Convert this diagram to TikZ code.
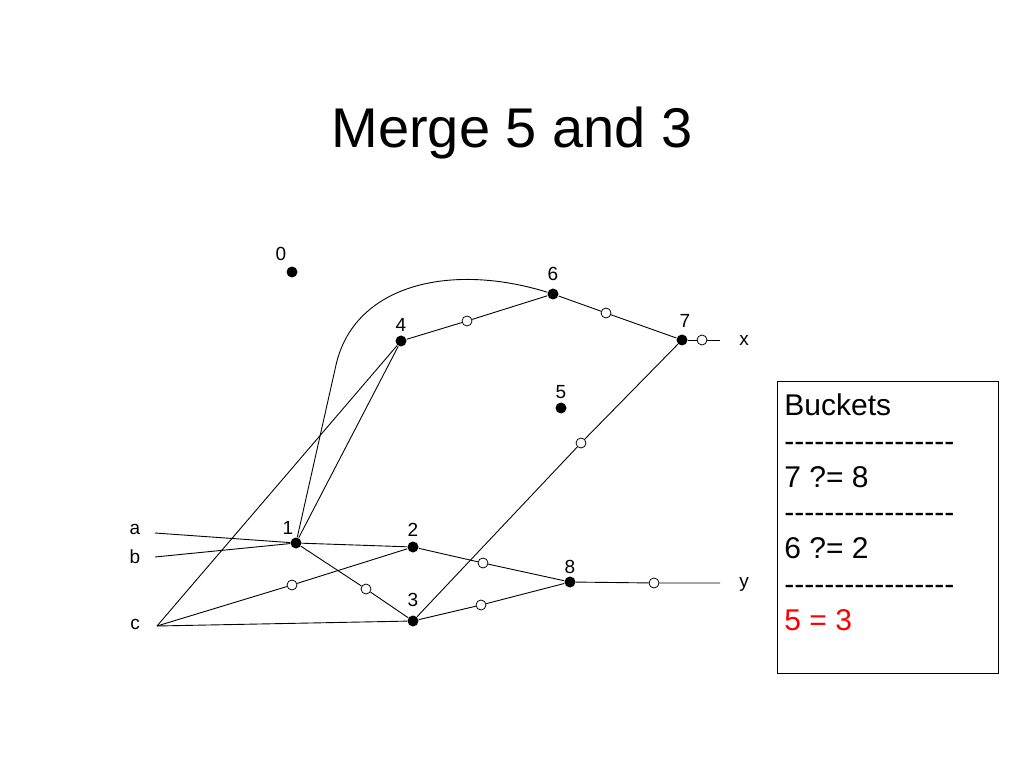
\documentclass[tikz,border=0pt]{standalone}
\usepackage{fontspec}
\setmainfont{Liberation Sans}
\newcommand{\dashrow}{-{}-{}-{}-{}-{}-{}-{}-{}-{}-{}-{}-{}-{}-{}-{}-{}-}
\begin{document}
\begin{tikzpicture}[x=1pt,y=-1pt,line width=0.9pt,
  dot/.style={circle,fill=black,inner sep=0pt,minimum size=11pt},
  hollow/.style={circle,draw=black,fill=white,inner sep=0pt,minimum size=10pt,line width=0.8pt},
  lbl/.style={anchor=base,inner sep=0pt,font=\fontsize{19}{21}\selectfont},
  bk/.style={anchor=base west,inner sep=0pt,font=\fontsize{30}{36}\selectfont}]
\useasboundingbox (0,0) rectangle (1023,767);
% title
\node[anchor=base,inner sep=0pt,font=\fontsize{56}{60}\selectfont] (title) at (512,148) {Merge 5 and 3};
% main nodes
\node[dot] (n0) at (292,272) {};
\node[dot] (n1) at (296,543) {};
\node[dot] (n2) at (413,547) {};
\node[dot] (n3) at (413,621) {};
\node[dot] (n4) at (401,341) {};
\node[dot] (n5) at (561,408) {};
\node[dot] (n6) at (553,294) {};
\node[dot] (n7) at (682,340) {};
\node[dot] (n8) at (570,582) {};
% hollow nodes
\node[hollow] (h46) at (467,321) {};
\node[hollow] (h67) at (606,313) {};
\node[hollow] (h7x) at (702,340) {};
\node[hollow] (h37) at (581,443) {};
\node[hollow] (hc2) at (292,585) {};
\node[hollow] (h13) at (366,589) {};
\node[hollow] (h28) at (483,563) {};
\node[hollow] (h38) at (481,605) {};
\node[hollow] (h8y) at (654,583) {};
% free ends
\coordinate (ea) at (155,533);
\coordinate (eb) at (155,557);
\coordinate (ec) at (157,626);
\coordinate (ex) at (720,340);
\coordinate (ey) at (720,583);
\coordinate (bend) at (336,365);
% labels
\node[lbl] (l0) at (281,260.5) {0};
\node[lbl] (l1) at (288,534) {1};
\node[lbl] (l2) at (413,536) {2};
\node[lbl] (l3) at (413,606) {3};
\node[lbl] (l4) at (401,332) {4};
\node[lbl] (l5) at (561,398) {5};
\node[lbl] (l6) at (553,281) {6};
\node[lbl] (l7) at (685,328) {7};
\node[lbl] (l8) at (570,573) {8};
\node[lbl] (la) at (135,534) {a};
\node[lbl] (lb) at (135,563) {b};
\node[lbl] (lc) at (135,629) {c};
\node[lbl] (lx) at (744,345) {x};
\node[lbl] (ly) at (744,587) {y};
% edges
\draw (ea) -- (n1);
\draw (eb) -- (n1);
\draw (ec) -- (n4);
\draw (ec) -- (hc2) -- (n2);
\draw (ec) -- (n3);
\draw (n1) -- (n2);
\draw (n1) -- (n4);
\draw (n1) -- (h13) -- (n3);
\draw (n1) -- (bend) .. controls (354,285) and (450,262) .. (n6);
\draw (n4) -- (h46) -- (n6);
\draw (n6) -- (h67) -- (n7);
\draw (n7) -- (h7x) -- (ex);
\draw (n3) -- (h37) -- (n7);
\draw (n2) -- (h28) -- (n8);
\draw (n3) -- (h38) -- (n8);
\draw (n8) -- (h8y) -- (ey);
% buckets box
\node[draw=black,line width=0.9pt,inner sep=0pt,minimum width=221pt,minimum height=292pt,anchor=north west] (box) at (777,381) {};
\node[bk] (t1) at (784,415) {Buckets};
\node[bk] (t2) at (784,451) {\dashrow};
\node[bk] (t3) at (784,487) {7 ?= 8};
\node[bk] (t4) at (784,522) {\dashrow};
\node[bk] (t5) at (784,558) {6 ?= 2};
\node[bk] (t6) at (784,594) {\dashrow};
\node[bk,text=red] (t7) at (784,630) {5 = 3};
\end{tikzpicture}
\end{document}
